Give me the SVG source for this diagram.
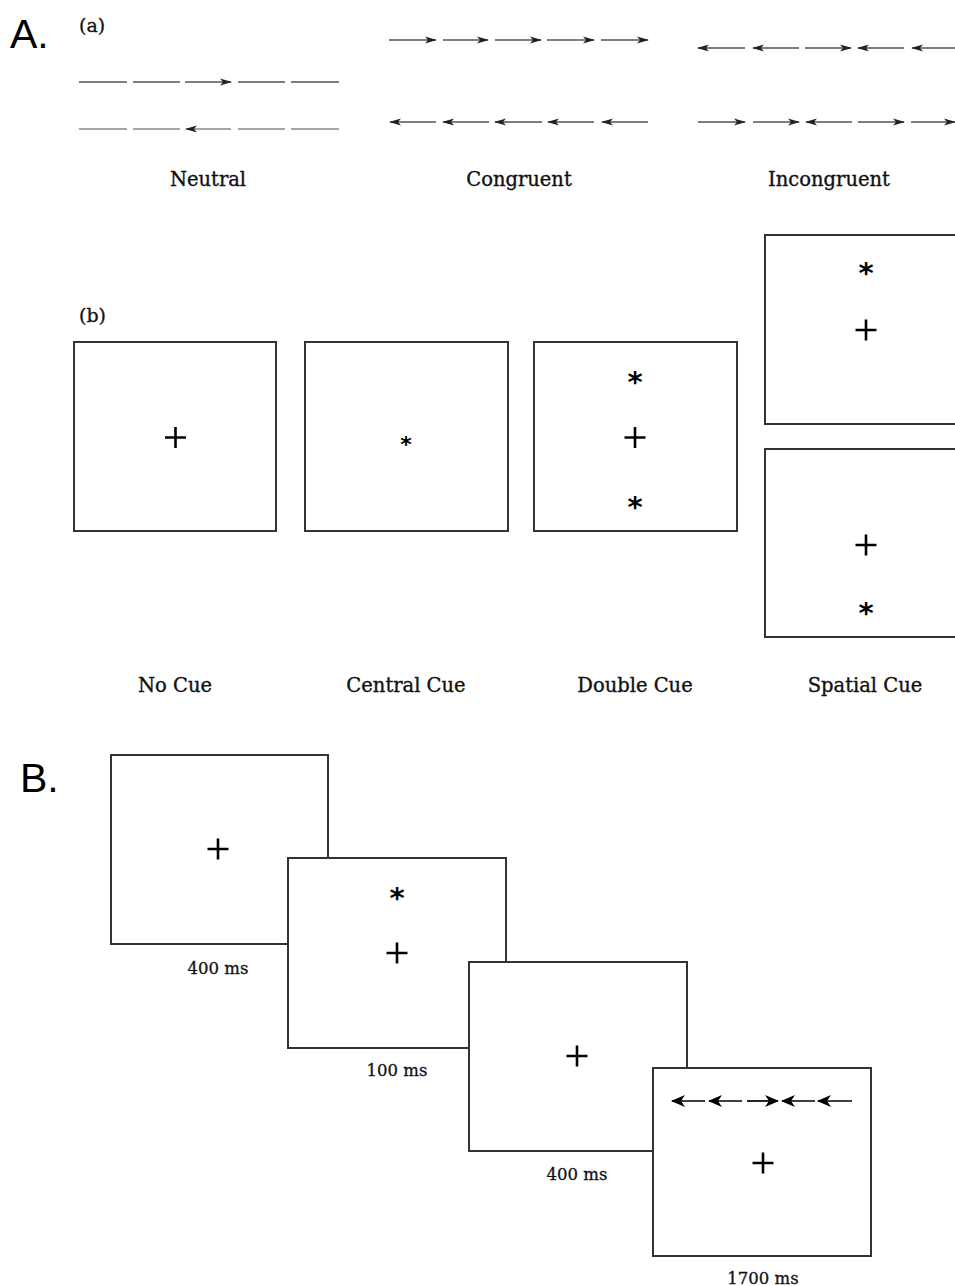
<svg xmlns="http://www.w3.org/2000/svg" width="955" height="1286" viewBox="0 0 955 1286">
<style>
.lbl{font-family:"DejaVu Serif","Liberation Serif",serif;font-size:19.5px;fill:#111;stroke:#111;stroke-width:0.35;text-anchor:middle}
.ms{font-family:"DejaVu Serif","Liberation Serif",serif;font-size:16.5px;fill:#111;stroke:#111;stroke-width:0.3;text-anchor:middle}
.sub{font-family:"DejaVu Serif","Liberation Serif",serif;font-size:19px;fill:#111;stroke:#111;stroke-width:0.3}
.big{font-family:"Liberation Sans",Arial,sans-serif;font-size:41px;fill:#000}
.box{fill:#fff;stroke:#333;stroke-width:2}
.cross{stroke:#000;stroke-width:2.6;fill:none}
.ast{font-family:"DejaVu Sans",sans-serif;font-weight:bold;fill:#000;text-anchor:middle}
.fl{stroke:#555;stroke-width:1.7;fill:none}
.fl2{stroke:#888;stroke-width:1.4;fill:none}
.ta{stroke:#000;stroke-width:1.7;fill:none}
</style>
<defs>
<marker id="ah" markerUnits="userSpaceOnUse" markerWidth="12" markerHeight="8" viewBox="0 0 12 8" refX="11" refY="4" orient="auto">
<path d="M0,0.5 L12,4 L0,7.5 L3,4 Z" fill="#222"/>
</marker>
<marker id="ahB" markerUnits="userSpaceOnUse" markerWidth="14" markerHeight="12" viewBox="0 0 14 12" refX="13" refY="6" orient="auto">
<path d="M0,0 L14,6 L0,12 L4,6 Z" fill="#000"/>
</marker>
</defs>

<g id="title-A"><text class="big" x="10" y="48">A.</text></g>
<g id="label-a"><text class="sub" x="79" y="32">(a)</text></g>
<g id="label-b"><text class="sub" x="79" y="322">(b)</text></g>
<g id="title-B"><text class="big" x="20" y="792">B.</text></g>

<g id="flankers">
<g id="neutral">
<line class="fl" x1="79" y1="82" x2="127" y2="82"/>
<line class="fl" x1="133" y1="82" x2="180" y2="82"/>
<line class="fl" x1="185" y1="82" x2="231" y2="82" marker-end="url(#ah)"/>
<line class="fl" x1="238" y1="82" x2="285" y2="82"/>
<line class="fl" x1="291" y1="82" x2="339" y2="82"/>
<line class="fl2" x1="79" y1="129" x2="127" y2="129"/>
<line class="fl2" x1="133" y1="129" x2="180" y2="129"/>
<line class="fl2" x1="231" y1="129" x2="186" y2="129" marker-end="url(#ah)"/>
<line class="fl2" x1="238" y1="129" x2="285" y2="129"/>
<line class="fl2" x1="291" y1="129" x2="339" y2="129"/>
<text class="lbl" x="208" y="186">Neutral</text>
</g>
<g id="congruent">
<line class="fl" x1="389" y1="40" x2="436" y2="40" marker-end="url(#ah)"/>
<line class="fl" x1="443" y1="40" x2="488" y2="40" marker-end="url(#ah)"/>
<line class="fl" x1="495" y1="40" x2="541" y2="40" marker-end="url(#ah)"/>
<line class="fl" x1="547" y1="40" x2="594" y2="40" marker-end="url(#ah)"/>
<line class="fl" x1="601" y1="40" x2="648" y2="40" marker-end="url(#ah)"/>
<line class="fl" x1="436" y1="122" x2="390" y2="122" marker-end="url(#ah)"/>
<line class="fl" x1="489" y1="122" x2="443" y2="122" marker-end="url(#ah)"/>
<line class="fl" x1="542" y1="122" x2="495" y2="122" marker-end="url(#ah)"/>
<line class="fl" x1="594" y1="122" x2="548" y2="122" marker-end="url(#ah)"/>
<line class="fl" x1="648" y1="122" x2="602" y2="122" marker-end="url(#ah)"/>
<text class="lbl" x="519" y="186">Congruent</text>
</g>
<g id="incongruent">
<line class="fl" x1="745" y1="48" x2="698" y2="48" marker-end="url(#ah)"/>
<line class="fl" x1="799" y1="48" x2="753" y2="48" marker-end="url(#ah)"/>
<line class="fl" x1="805" y1="48" x2="851" y2="48" marker-end="url(#ah)"/>
<line class="fl" x1="904" y1="48" x2="858" y2="48" marker-end="url(#ah)"/>
<line class="fl" x1="958" y1="48" x2="912" y2="48" marker-end="url(#ah)"/>
<line class="fl" x1="698" y1="122" x2="745" y2="122" marker-end="url(#ah)"/>
<line class="fl" x1="753" y1="122" x2="799" y2="122" marker-end="url(#ah)"/>
<line class="fl" x1="852" y1="122" x2="806" y2="122" marker-end="url(#ah)"/>
<line class="fl" x1="858" y1="122" x2="904" y2="122" marker-end="url(#ah)"/>
<line class="fl" x1="911" y1="122" x2="955" y2="122" marker-end="url(#ah)"/>
<text class="lbl" x="829" y="186">Incongruent</text>
</g>
</g>

<g id="no-cue">
<rect class="box" x="74" y="342" width="202" height="189"/>
<path class="cross" d="M165,437.5 H186 M175.5,427 V448"/>
<text class="lbl" x="175" y="692">No Cue</text>
</g>
<g id="central-cue">
<rect class="box" x="305" y="342" width="203" height="189"/>
<text class="ast" x="406" y="452" font-size="22">*</text>
<text class="lbl" x="406" y="692">Central Cue</text>
</g>
<g id="double-cue">
<rect class="box" x="534" y="342" width="203" height="189"/>
<text class="ast" x="635" y="392" font-size="29">*</text>
<path class="cross" d="M624.5,437.5 H645.5 M635,427 V448"/>
<text class="ast" x="635" y="517" font-size="29">*</text>
<text class="lbl" x="635" y="692">Double Cue</text>
</g>
<g id="spatial-cue">
<rect class="box" x="765" y="235" width="200" height="189"/>
<text class="ast" x="866" y="283" font-size="29">*</text>
<path class="cross" d="M855.5,330 H876.5 M866,319.5 V340.5"/>
<rect class="box" x="765" y="449" width="200" height="188"/>
<path class="cross" d="M855.5,545 H876.5 M866,534.5 V555.5"/>
<text class="ast" x="866" y="623" font-size="29">*</text>
<text class="lbl" x="865" y="692">Spatial Cue</text>
</g>

<g id="b-fixation">
<rect class="box" x="111" y="755" width="217" height="189"/>
<path class="cross" d="M207.5,849 H228.5 M218,838.5 V859.5"/>
<text class="ms" x="218" y="974">400 ms</text>
</g>
<g id="b-cue">
<rect class="box" x="288" y="858" width="218" height="190"/>
<text class="ast" x="397" y="908" font-size="29">*</text>
<path class="cross" d="M386.5,953 H407.5 M397,942.5 V963.5"/>
<text class="ms" x="397" y="1076">100 ms</text>
</g>
<g id="b-fixation2">
<rect class="box" x="469" y="962" width="218" height="189"/>
<path class="cross" d="M566.5,1056 H587.5 M577,1045.5 V1066.5"/>
<text class="ms" x="577" y="1180">400 ms</text>
</g>
<g id="b-target">
<rect class="box" x="653" y="1068" width="218" height="188"/>
<line class="ta" x1="705" y1="1101" x2="672" y2="1101" marker-end="url(#ahB)"/>
<line class="ta" x1="742" y1="1101" x2="709" y2="1101" marker-end="url(#ahB)"/>
<line class="ta" x1="747" y1="1101" x2="778" y2="1101" marker-end="url(#ahB)"/>
<line class="ta" x1="815" y1="1101" x2="782" y2="1101" marker-end="url(#ahB)"/>
<line class="ta" x1="852" y1="1101" x2="818" y2="1101" marker-end="url(#ahB)"/>
<path class="cross" d="M752.5,1163 H773.5 M763,1152.5 V1173.5"/>
<text class="ms" x="763" y="1284">1700 ms</text>
</g>
</svg>
